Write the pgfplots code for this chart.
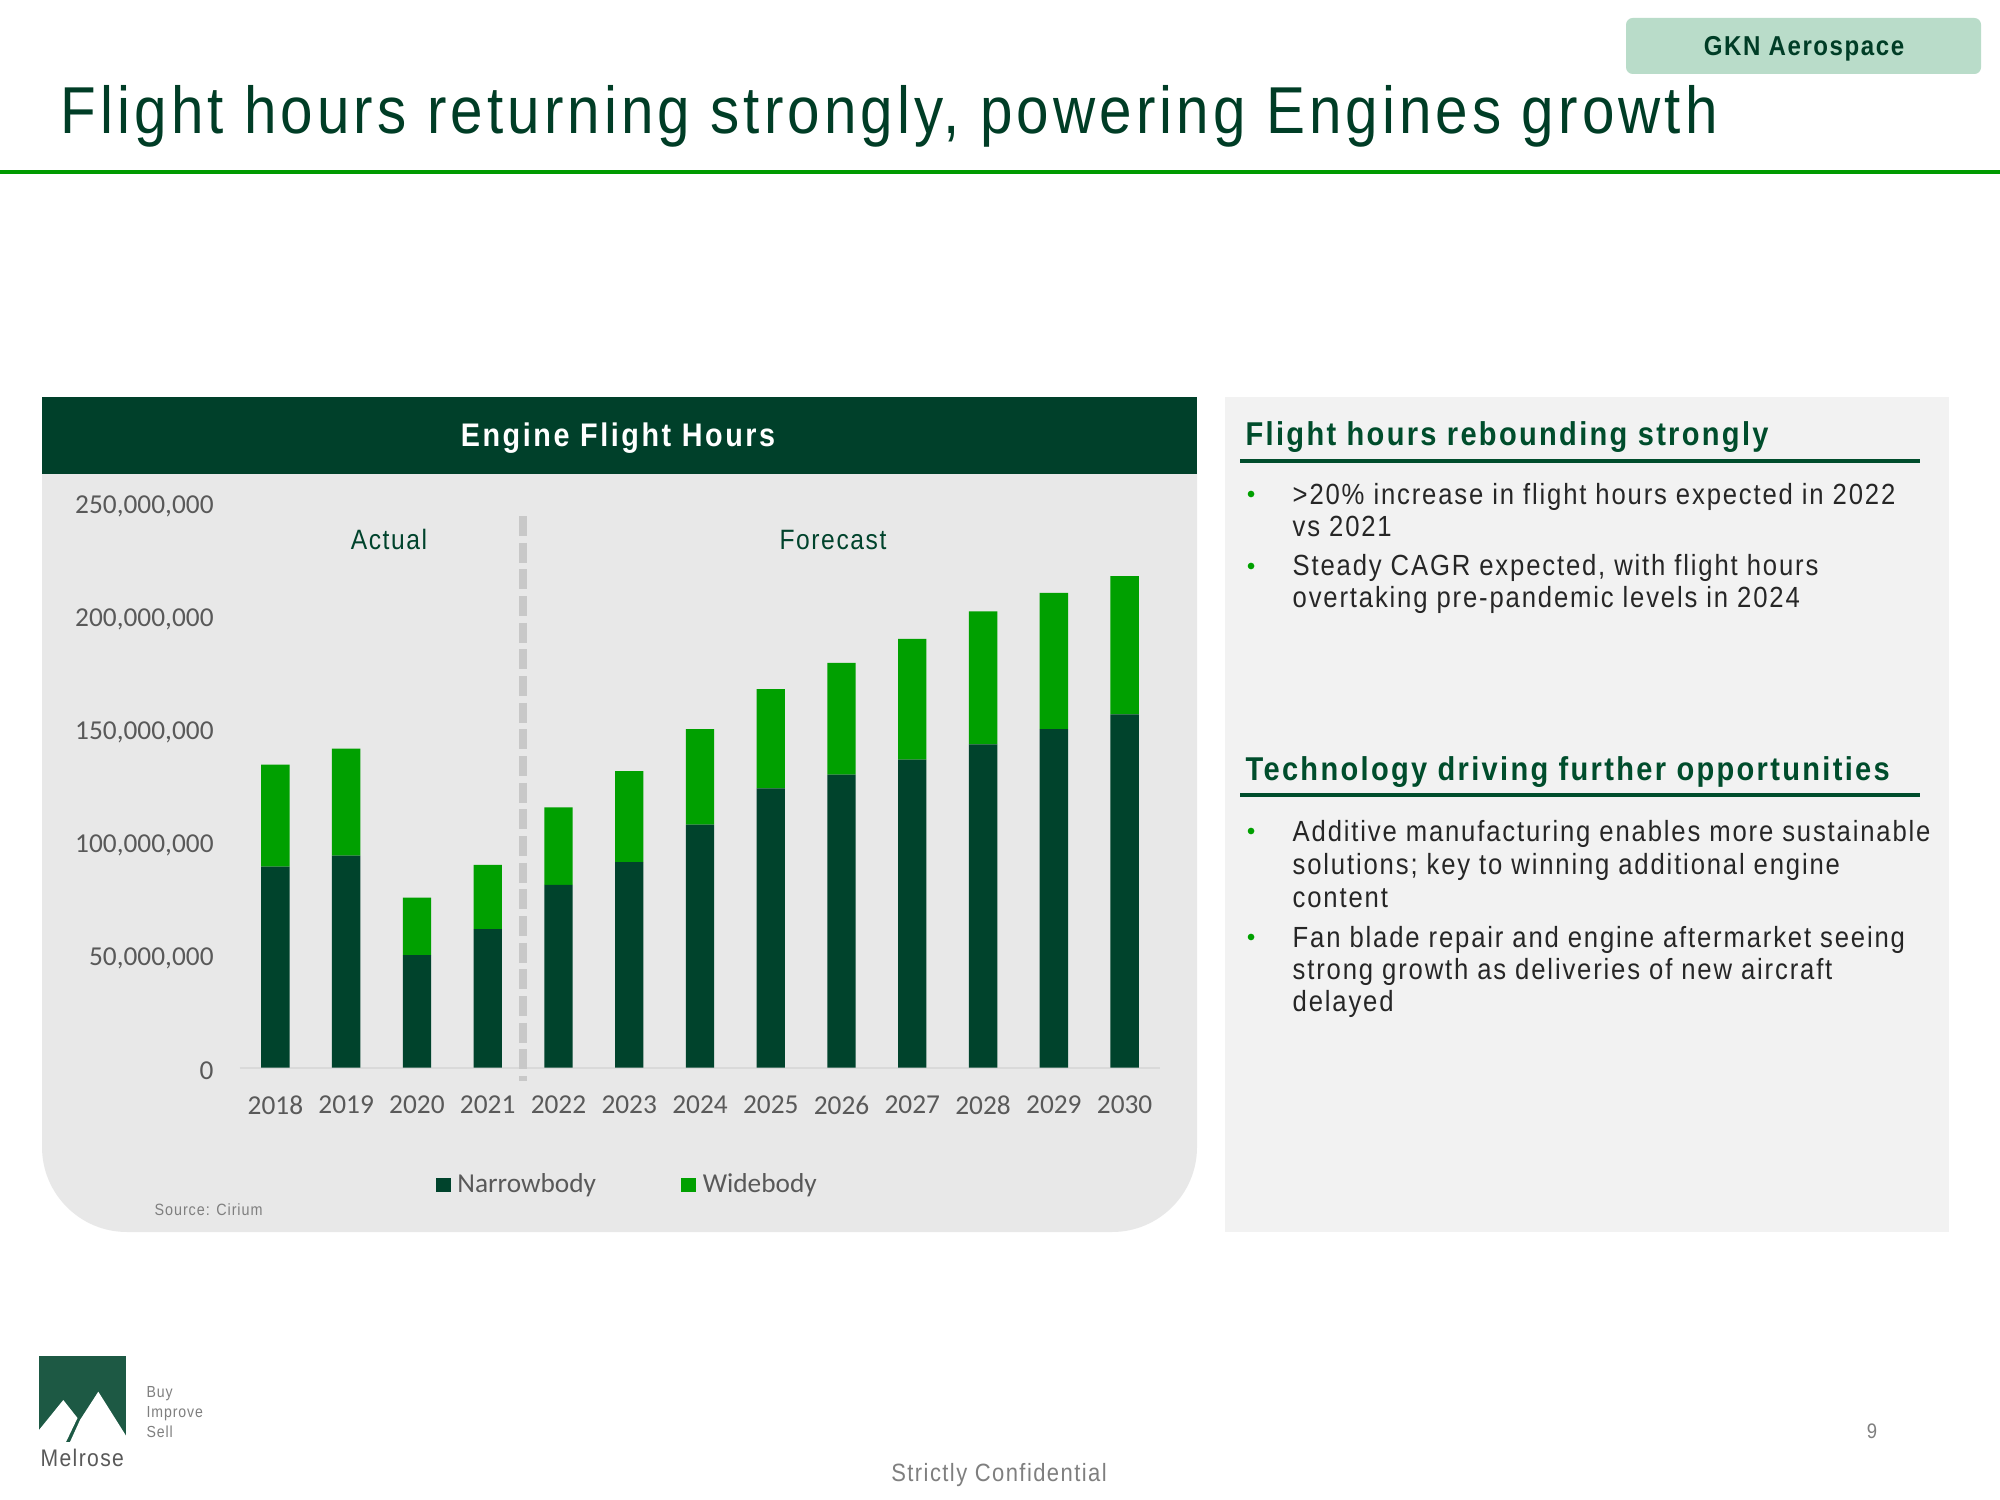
\documentclass[border=0pt]{standalone}
\usepackage{fontspec}
\setmainfont{Liberation Sans}[FakeStretch=0.88, LetterSpace=5.7]
\newfontfamily\titlefont{Liberation Sans}[FakeStretch=0.88, LetterSpace=6.2]
\newfontfamily\headfont{Liberation Sans}[FakeStretch=0.88, LetterSpace=7]
\newfontfamily\bodyfont{Liberation Sans}[FakeStretch=0.88, LetterSpace=6.3]
\newfontfamily\hdrfont{Liberation Sans}[FakeStretch=0.88, LetterSpace=7.9]
\newfontfamily\calibri{Carlito}
\usepackage{pgfplots}
\pgfplotsset{compat=1.18}
\usepackage{pgfplotstable}

\definecolor{dkgreen}{HTML}{00432C}
\definecolor{ltgreen}{HTML}{00A000}
\definecolor{titlegreen}{HTML}{003D26}
\definecolor{hdr}{HTML}{00402A}
\definecolor{badge}{HTML}{B9DCC9}
\definecolor{panelgrey}{HTML}{E8E8E8}
\definecolor{rpanel}{HTML}{F2F2F2}
\definecolor{axisgrey}{HTML}{595959}
\definecolor{axisline}{HTML}{D9D9D9}
\definecolor{bodytext}{HTML}{262626}
\definecolor{rulegreen}{HTML}{009A00}
\definecolor{headgreen}{HTML}{004D2C}
\definecolor{logogreen}{HTML}{1D5944}
\definecolor{dashgrey}{HTML}{C8C8C8}
\definecolor{footgrey}{HTML}{7F7F7F}

\newcommand\fs[1]{\fontsize{#1}{#1}\selectfont}

\pgfplotstableread{
year narrow wide
2018 88900000 45200000
2019 93800000 47300000
2020 49800000 25400000
2021 61300000 28400000
2022 80800000 34300000
2023 90900000 40300000
2024 107500000 42300000
2025 123600000 43900000
2026 129600000 49500000
2027 136300000 53400000
2028 143000000 58900000
2029 149800000 60300000
2030 156300000 61200000
}\flightdata

\begin{document}
\begin{tikzpicture}
\useasboundingbox (0pt,0pt) rectangle (600pt,450pt);
\fill[white] (0pt,0pt) rectangle (600pt,450pt);
\begin{scope}[shift={(0pt,450pt)},x=0.3pt,y=-0.3pt]
  % badge
  \fill[badge, rounded corners=2pt] (1626,18) rectangle (1981,74);
  \node[anchor=base, inner sep=0pt, font=\bfseries\fs{8.2}, text=titlegreen] at (1804,56) {GKN Aerospace};
  % title
  \node[anchor=base west, inner sep=0pt, font=\titlefont\fs{19.9}, text=titlegreen] at (60,133.3) {Flight hours returning strongly, powering Engines growth};
  \fill[rulegreen] (0,170) rectangle (2000,174);
  % chart panel
  \fill[panelgrey] (42,470) -- (42,1147) arc[start angle=180, end angle=270, radius=25.5pt] -- (1112,1232) arc[start angle=270, end angle=360, radius=25.5pt] -- (1197,470) -- cycle;
  \fill[hdr] (42,397) rectangle (1197,474);
  \node[anchor=base, inner sep=0pt, font=\hdrfont\bfseries\fs{9.8}, text=white] at (618,447) {Engine Flight Hours};
  % right panel
  \fill[rpanel] (1225,397) rectangle (1949,1232);
\end{scope}

\begin{axis}[
  at={(72pt,129.72pt)}, anchor=south west,
  width=276pt, height=169.5pt, scale only axis,
  xmin=2017.5, xmax=2030.5, ymin=0, ymax=250000000,
  ybar stacked, bar width=8.5pt,
  axis x line=bottom, axis y line=left,
  x axis line style={draw=axisline, line width=0.6pt, -},
  y axis line style={draw=none},
  major tick length=0pt,
  xtick={2018,2019,2020,2021,2022,2023,2024,2025,2026,2027,2028,2029,2030},
  xticklabels={2018,2019,2020,2021,2022,2023,2024,2025,2026,2027,2028,2029,2030},
  scaled y ticks=false,
  ytick={0,50000000,100000000,150000000,200000000,250000000},
  yticklabels={0,{50,000,000},{100,000,000},{150,000,000},{200,000,000},{250,000,000}},
  ticklabel style={font=\calibri\fs{8.2}, text=axisgrey},
  yticklabel style={xshift=-4.4pt, yshift=-1pt},
  xticklabel style={yshift=-5pt},
  clip=false,
  legend style={at={(0.212,-0.208)}, anchor=west, draw=none, fill=none, inner sep=0pt,
    font=\calibri\fs{8.2}, text=axisgrey, legend columns=2,
    /tikz/every even column/.append style={column sep=23.5pt}},
  legend cell align=left,
]
\addplot[fill=dkgreen, draw=none,
  legend image code/.code={\fill[dkgreen] (0pt,-2.2pt) rectangle (4.5pt,2.2pt);}]
  table[x=year, y=narrow]{\flightdata};
\addlegendentry{Narrowbody}
\addplot[fill=ltgreen, draw=none,
  legend image code/.code={\fill[ltgreen] (0pt,-2.2pt) rectangle (4.5pt,2.2pt);}]
  table[x=year, y=wide]{\flightdata};
\addlegendentry{Widebody}
\draw[dashgrey, line width=2.2pt, dash pattern=on 6pt off 2pt] (axis cs:2021.5,244000000) -- (axis cs:2021.5,-6000000);
\end{axis}

\begin{scope}[shift={(0pt,450pt)},x=0.3pt,y=-0.3pt]
  \node[anchor=base, inner sep=0pt, font=\fs{8.4}, text=dkgreen] at (389,550) {Actual};
  \node[anchor=base, inner sep=0pt, font=\fs{8.4}, text=dkgreen] at (833,550) {Forecast};
  \node[anchor=base west, inner sep=0pt, font=\fs{4.9}, text=footgrey] at (154,1215) {Source: Cirium};
  % right panel text
  \node[anchor=base west, inner sep=0pt, font=\headfont\bfseries\fs{9.9}, text=headgreen] at (1245,445.6) {Flight hours rebounding strongly};
  \fill[headgreen] (1240,459) rectangle (1920,463);
  \foreach \yy in {494,566} \fill[ltgreen] (1251,\yy) circle[radius=1pt];
  \begin{scope}[every node/.style={anchor=base west, inner sep=0pt, font=\bodyfont\fs{8.75}, text=bodytext}]
    \node at (1292,504.4) {>20\% increase in flight hours expected in 2022};
    \node at (1292,537) {vs 2021};
    \node at (1292,576) {Steady CAGR expected, with flight hours};
    \node at (1292,608) {overtaking pre-pandemic levels in 2024};
  \end{scope}
  \node[anchor=base west, inner sep=0pt, font=\headfont\bfseries\fs{9.9}, text=headgreen] at (1245,781) {Technology driving further opportunities};
  \fill[headgreen] (1240,793) rectangle (1920,797);
  \foreach \yy in {831,937} \fill[ltgreen] (1251,\yy) circle[radius=1pt];
  \begin{scope}[every node/.style={anchor=base west, inner sep=0pt, font=\bodyfont\fs{8.75}, text=bodytext}]
    \node at (1292,841) {Additive manufacturing enables more sustainable};
    \node at (1292,874) {solutions; key to winning additional engine};
    \node at (1292,907) {content};
    \node at (1292,947) {Fan blade repair and engine aftermarket seeing};
    \node at (1292,979) {strong growth as deliveries of new aircraft};
    \node at (1292,1011) {delayed};
  \end{scope}
  % footer logo
  \fill[logogreen] (39,1356) rectangle (126,1442);
  \fill[white] (39,1442) -- (39,1430) -- (63.3,1400) -- (77.5,1418) -- (66,1442) -- cycle;
  \fill[white] (70,1442) -- (80,1420) -- (98.3,1391.7) -- (126,1435.7) -- (126,1442) -- cycle;
  \node[anchor=base west, inner sep=0pt, font=\fs{7.2}, text=axisgrey] at (40,1466.7) {Melrose};
  \node[anchor=base west, inner sep=0pt, font=\fs{4.8}, text=footgrey] at (146,1397.3) {Buy};
  \node[anchor=base west, inner sep=0pt, font=\fs{4.8}, text=footgrey] at (146,1417.7) {Improve};
  \node[anchor=base west, inner sep=0pt, font=\fs{4.8}, text=footgrey] at (146,1437.7) {Sell};
  \node[anchor=base, inner sep=0pt, font=\fs{6.3}, text=footgrey] at (1872,1438) {9};
  \node[anchor=base, inner sep=0pt, font=\fs{7.5}, text=footgrey] at (999,1481.7) {Strictly Confidential};
\end{scope}
\end{tikzpicture}
\end{document}
